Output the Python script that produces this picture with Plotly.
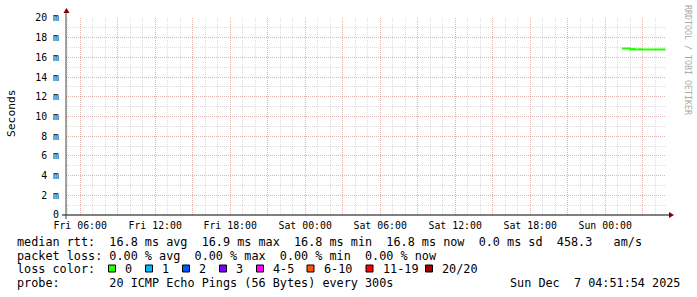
import plotly.graph_objects as go
import pandas as pd

# ---------------- data ----------------
start_time = "2025-12-07 01:20:00"
n_points = 43
median_ms = [16.9, 16.9, 16.9, 16.9, 16.9, 16.9, 16.9, 16.9,
             16.8, 16.8, 16.85, 16.85, 16.8, 16.8, 16.8, 16.8, 16.8, 16.82,
             16.8, 16.8, 16.8, 16.8, 16.8, 16.8, 16.8, 16.8, 16.8, 16.8,
             16.8, 16.8, 16.8, 16.8, 16.8, 16.8, 16.8, 16.8, 16.8, 16.8,
             16.8, 16.8, 16.8, 16.8, 16.8]
times = pd.date_range(start_time, periods=n_points, freq="300s")
median_s = [v / 1000.0 for v in median_ms]

x_start = "2025-12-05 04:51:54"
x_end = "2025-12-07 04:51:54"

x_tickvals = pd.date_range("2025-12-05 06:00", "2025-12-07 03:00", freq="3h")
x_ticktext = []
for t in x_tickvals:
    x_ticktext.append(t.strftime("%a %H:%M") if t.hour % 6 == 0 else "")

y_tickvals = [i * 0.002 for i in range(11)]
y_ticktext = ["0"] + [f"{i*2} m" for i in range(1, 11)]

loss_labels = ["0", "1", "2", "3", "4-5", "6-10", "11-19", "20/20"]
loss_colors = ["#26ff00", "#00b8ff", "#0059ff", "#7e00ff", "#ff00ff", "#ff5500", "#ff0000", "#a10000"]

legend_rows = [
    "median rtt:  16.8 ms avg  16.9 ms max  16.8 ms min  16.8 ms now  0.0 ms sd  458.3   am/s",
    "packet loss: 0.00 % avg  0.00 % max  0.00 % min  0.00 % now",
    "loss color:",
    "probe:       20 ICMP Echo Pings (56 Bytes) every 300s",
]
date_stamp = "Sun Dec  7 04:51:54 2025"

# ---------------- layout geometry ----------------
W, H = 697, 297
L, R, T, B = 66, 31, 18, 82
PW = W - L - R
PH = H - T - B


def px(xp):
    return (xp - L) / PW


def py(yp):
    return (H - B - yp) / PH


def nb(s):
    return s.replace(" ", "\u00a0")


MONO = "DejaVu Sans Mono"
MAJOR = "rgba(222,48,32,0.24)"
MINOR = "rgba(143,143,143,0.30)"

fig = go.Figure()
fig.add_trace(go.Scatter(
    x=times, y=median_s, mode="lines",
    line=dict(color=loss_colors[0], width=2, shape="hv"),
    showlegend=False, hoverinfo="skip",
))

fig.update_layout(
    width=W, height=H,
    margin=dict(l=L, r=R, t=T, b=B, pad=0),
    paper_bgcolor="white", plot_bgcolor="white",
    showlegend=False,
    font=dict(family=MONO, size=10, color="#000"),
    xaxis=dict(
        type="date", range=[x_start, x_end],
        tickmode="array", tickvals=list(x_tickvals), ticktext=x_ticktext,
        tickangle=0,
        showgrid=True, gridcolor=MAJOR, griddash="1px,1px", gridwidth=1,
        minor=dict(dtick=3600000, showgrid=True, gridcolor=MINOR, griddash="1px,1px", gridwidth=1),
        ticks="", showline=False, zeroline=False,
        tickfont=dict(family=MONO, size=9.85, color="#000"),
        ticklabelstandoff=3,
    ),
    yaxis=dict(
        range=[0, 0.020],
        tickmode="array", tickvals=y_tickvals, ticktext=y_ticktext,
        showgrid=True, gridcolor=MAJOR, griddash="1px,1px", gridwidth=1,
        minor=dict(dtick=0.001, showgrid=True, gridcolor=MINOR, griddash="1px,1px", gridwidth=1),
        ticks="", showline=False, zeroline=False,
        tickfont=dict(family=MONO, size=9.85, color="#000"),
        ticklabelstandoff=6,
    ),
)

shapes = []
# axis lines
shapes.append(dict(type="line", xref="paper", yref="paper", x0=px(62), x1=px(670), y0=0, y1=0,
                   line=dict(color="#000", width=1)))
shapes.append(dict(type="line", xref="paper", yref="paper", x0=0, x1=0, y0=py(219), y1=py(12),
                   line=dict(color="#444", width=1)))
# arrowheads
shapes.append(dict(type="path", xref="paper", yref="paper",
                   path=f"M {px(669)},{py(212)} L {px(674)},{py(215)} L {px(669)},{py(218)} Z",
                   fillcolor="#7f0000", line=dict(color="#7f0000", width=0)))
shapes.append(dict(type="path", xref="paper", yref="paper",
                   path=f"M {px(63.5)},{py(13)} L {px(66.5)},{py(8)} L {px(69.5)},{py(13)} Z",
                   fillcolor="#7f0000", line=dict(color="#7f0000", width=0)))

row_y = [241.7, 255.5, 269.4, 283.3]

# loss colour swatches
box_x = [108, 145, 182, 219, 256, 306.5, 365.5, 425]
lab_x = [123, 160, 197, 234, 271, 321.5, 380.5, 440]
for bx, c in zip(box_x, loss_colors):
    shapes.append(dict(type="rect", xref="paper", yref="paper",
                       x0=px(bx + 0.5), x1=px(bx + 7.5), y0=py(272), y1=py(265),
                       fillcolor=c, line=dict(color="#000", width=1)))
fig.update_layout(shapes=shapes)

ann = []
for i, txt in enumerate(legend_rows):
    ann.append(dict(text=nb(txt), x=px(15), y=py(row_y[i]), xref="paper", yref="paper",
                    xanchor="left", yanchor="middle", showarrow=False,
                    font=dict(family=MONO, size=11.8, color="#000")))
for lx, lab in zip(lab_x, loss_labels):
    ann.append(dict(text=nb(lab), x=px(lx), y=py(row_y[2]), xref="paper", yref="paper",
                    xanchor="left", yanchor="middle", showarrow=False,
                    font=dict(family=MONO, size=11.8, color="#000")))
ann.append(dict(text=nb(date_stamp), x=px(682), y=py(row_y[3]), xref="paper", yref="paper",
                xanchor="right", yanchor="middle", showarrow=False,
                font=dict(family=MONO, size=11.8, color="#000")))
# y title
ann.append(dict(text="Seconds", x=px(11), y=py(113), xref="paper", yref="paper",
                xanchor="center", yanchor="middle", textangle=-90, showarrow=False,
                font=dict(family=MONO, size=11.3, color="#000")))
# watermark
ann.append(dict(text=nb("RRDTOOL / TOBI OETIKER"), x=px(688), y=py(60), xref="paper", yref="paper",
                xanchor="center", yanchor="middle", textangle=90, showarrow=False,
                font=dict(family=MONO, size=8.3, color="#aaaaaa")))
fig.update_layout(annotations=ann)

fig.write_html("out.html")
